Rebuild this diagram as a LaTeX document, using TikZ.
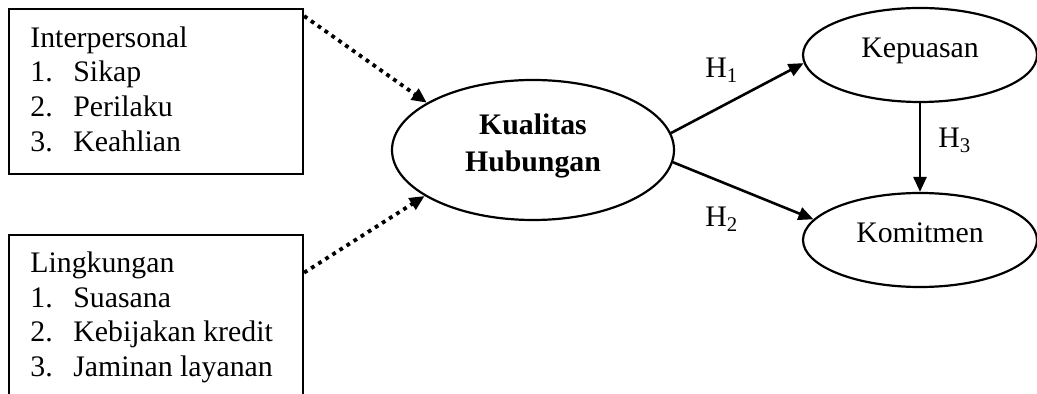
\documentclass[tikz,border=0pt]{standalone}
\usepackage{fontspec}
\setmainfont{Liberation Serif}
\usetikzlibrary{arrows.meta,shapes.geometric}
\begin{document}
\begin{tikzpicture}[x=0.5pt,y=-0.5pt,
  txt/.style={anchor=base west, inner sep=0pt, font=\fontsize{14.9}{17.5}\selectfont},
  ctxt/.style={anchor=base, inner sep=0pt, font=\fontsize{14.9}{17.5}\selectfont},
  btxt/.style={ctxt, font=\fontsize{14.9}{17.5}\selectfont\bfseries},
  boxnode/.style={draw, line width=1.1pt, inner sep=0pt, minimum width=147pt},
  ell/.style={draw, ellipse, line width=1.1pt, inner sep=0pt},
  solidarrow/.style={line width=1.3pt, -{Triangle[length=7.5pt,width=6.5pt]}},
  dotarrow/.style={line width=1.9pt, dash pattern=on 1.9pt off 2.3pt, -{Triangle[length=7.5pt,width=6.5pt]}}
]
\useasboundingbox (0,0) rectangle (1037,394);
\clip (0,0) rectangle (1037,394);

% left boxes
\node[boxnode, minimum height=82.5pt] (box1) at (156,91.5) {};
\node[boxnode, minimum height=97.5pt] (box2) at (156,332.5) {};

\node[txt] (t1) at (30,48) {Interpersonal};
\node[txt] (t1a) at (30,82) {1.};
\node[txt] (t1b) at (73,82) {Sikap};
\node[txt] (t2a) at (30,117) {2.};
\node[txt] (t2b) at (73,117) {Perilaku};
\node[txt] (t3a) at (30,152) {3.};
\node[txt] (t3b) at (73,152) {Keahlian};

\node[txt] (l1) at (30,273) {Lingkungan};
\node[txt] (l1a) at (30,308) {1.};
\node[txt] (l1b) at (73,308) {Suasana};
\node[txt] (l2a) at (30,342) {2.};
\node[txt] (l2b) at (73,342) {Kebijakan kredit};
\node[txt] (l3a) at (30,377) {3.};
\node[txt] (l3b) at (73,377) {Jaminan layanan};

% ellipses
\node[ell, minimum width=141pt, minimum height=70pt] (kh) at (533,150) {};
\node[btxt] (kh1) at (533,135) {Kualitas};
\node[btxt] (kh2) at (533,172) {Hubungan};

\node[ell, minimum width=117pt, minimum height=47pt] (kep) at (920,55) {};
\node[ctxt] (kept) at (920,58) {Kepuasan};
\node[ell, minimum width=117pt, minimum height=47pt] (kom) at (920,240) {};
\node[ctxt] (komt) at (920,243) {Komitmen};

% connectors
\draw[dotarrow] (box1.27) -- (kh.156);
\draw[dotarrow] (box2.22) -- (kh.203);
\draw[solidarrow] (kh.7) -- (kep.184);
\draw[solidarrow] (kh.355) -- (kom.169);
\draw[solidarrow] (kep.south) -- (kom.north);

% labels
\node[txt] (h1) at (705,78) {H\textsubscript{1}};
\node[txt] (h2) at (705,227) {H\textsubscript{2}};
\node[txt] (h3) at (938,148) {H\textsubscript{3}};
\end{tikzpicture}
\end{document}
